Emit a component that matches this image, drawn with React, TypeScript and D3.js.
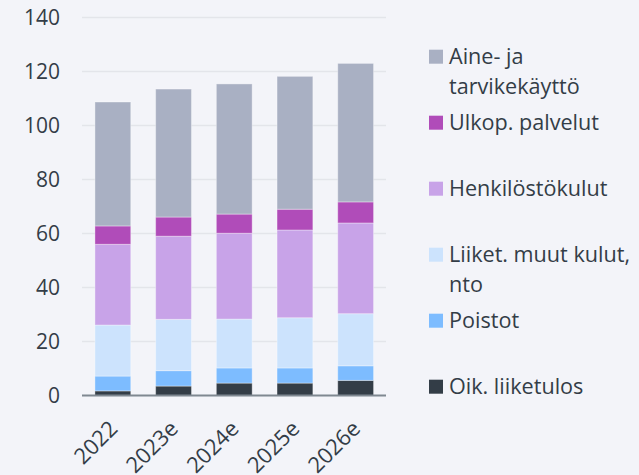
import React from "react";
import * as d3 from "d3";

const categories = ["2022", "2023e", "2024e", "2025e", "2026e"];
const seriesNames = ["Oik. liiketulos", "Poistot", "Liiket. muut kulut, nto", "Henkilöstökulut", "Ulkop. palvelut", "Aine- ja tarvikekäyttö"];
const oik = [1.7, 3.5, 4.6, 4.6, 5.6];
const poistot = [5.5, 5.7, 5.6, 5.6, 5.4];
const liiket = [18.9, 19.0, 18.1, 18.6, 19.3];
const henk = [29.9, 30.8, 31.8, 32.5, 33.6];
const ulkop = [6.8, 7.1, 7.1, 7.7, 7.8];
const aine = [45.9, 47.4, 48.2, 49.2, 51.3];
const yTicks = [0, 20, 40, 60, 80, 100, 120, 140];
const colors = ["#333d47", "#7dbcff", "#cce3fd", "#c8a3e8", "#b04cb9", "#a9b0c3"];
const legendOrder = [
  { idx: 5, lines: ["Aine- ja", "tarvikekäyttö"] },
  { idx: 4, lines: ["Ulkop. palvelut"] },
  { idx: 3, lines: ["Henkilöstökulut"] },
  { idx: 2, lines: ["Liiket. muut kulut,", "nto"] },
  { idx: 1, lines: ["Poistot"] },
  { idx: 0, lines: ["Oik. liiketulos"] },
];

export default function App() {
  const W = 639, H = 475;
  const font = "'Open Sans', sans-serif";
  const textColor = "#333d47";
  const values = [oik, poistot, liiket, henk, ulkop, aine];
  const rows = categories.map((c, i) => {
    const r: any = { cat: c };
    seriesNames.forEach((s, k) => (r[s] = values[k][i]));
    return r;
  });
  const stacked = d3.stack<any>().keys(seriesNames)(rows);
  const x = d3.scaleBand().domain(categories).range([82.5, 386]).paddingInner(0.41).paddingOuter(0.205);
  const y = d3.scaleLinear().domain([0, 140]).range([395.5, 17.5]);

  return (
    <div style={{ position: "fixed", left: 0, top: 0 }}>
      <svg width={W} height={H} style={{ display: "block" }}>
        <rect width={W} height={H} fill="#f3f4f9" />
        {yTicks.map((t) => (
          <g key={t}>
            {t > 0 && (
              <line x1={82} x2={386} y1={y(t)} y2={y(t)} stroke="#e3e5ea" strokeWidth={1.5} />
            )}
            <text x={60} y={y(t)} dy="0.35em" textAnchor="end" fontFamily={font} fontSize={21} fill={textColor}>
              {t}
            </text>
          </g>
        ))}
        {stacked.map((layer, k) => (
          <g key={layer.key}>
            {layer.map((d, i) => (
              <rect
                key={i}
                x={x(categories[i])!}
                width={x.bandwidth()}
                y={y(d[1])}
                height={y(d[0]) - y(d[1])}
                fill={colors[k]}
                stroke="#ffffff"
                strokeOpacity={0.35}
                strokeWidth={1}
              />
            ))}
          </g>
        ))}
        <line x1={82} x2={386} y1={y(0)} y2={y(0)} stroke="#7f8891" strokeWidth={2} />
        {categories.map((c) => {
          const cx = x(c)! + x.bandwidth() / 2 + 6;
          const cy = 430;
          return (
            <text
              key={c}
              transform={`translate(${cx},${cy}) rotate(-45)`}
              textAnchor="end"
              fontFamily={font}
              fontSize={22}
              fill={textColor}
            >
              {c}
            </text>
          );
        })}
        {legendOrder.map((item, j) => {
          const cy = 56.7 + j * 66;
          return (
            <g key={item.idx}>
              <rect x={429} y={cy - 7} width={14} height={14} fill={colors[item.idx]} />
              {item.lines.map((ln, li) => (
                <text key={li} x={449} y={cy + li * 30} dy="0.35em" fontFamily={font} fontSize={21.6} fill={textColor}>
                  {ln}
                </text>
              ))}
            </g>
          );
        })}
      </svg>
    </div>
  );
}
